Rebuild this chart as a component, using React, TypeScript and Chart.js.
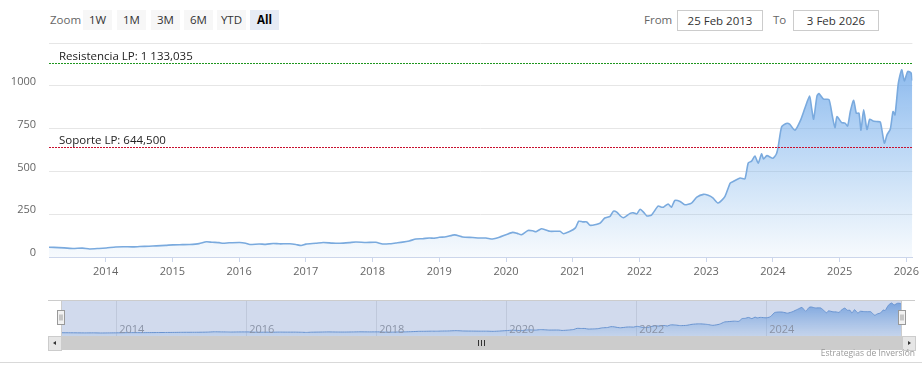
import React, { useEffect, useRef } from 'react';
import { Chart, registerables } from 'chart.js';

Chart.register(...registerables);

// ---- data (fractional years, price) ----
const dates: number[] = [
  2013.151, 2013.3, 2013.51, 2013.65, 2013.76, 2013.9, 2014.01, 2014.15, 2014.26, 2014.4,
  2014.51, 2014.65, 2014.76, 2014.9, 2015.01, 2015.15, 2015.26, 2015.4, 2015.51, 2015.6,
  2015.7, 2015.76, 2015.85, 2016.01, 2016.1, 2016.16, 2016.3, 2016.4, 2016.51, 2016.6,
  2016.76, 2016.85, 2016.93, 2017.0, 2017.15, 2017.26, 2017.4, 2017.51, 2017.65, 2017.75,
  2017.9, 2018.05, 2018.15, 2018.25, 2018.35, 2018.45, 2018.55, 2018.65, 2018.75, 2018.85,
  2018.93, 2019.0, 2019.1, 2019.23, 2019.35, 2019.5, 2019.6, 2019.7, 2019.8, 2019.9,
  2020.0, 2020.1, 2020.17, 2020.23, 2020.33, 2020.4, 2020.45, 2020.53, 2020.6, 2020.66,
  2020.81, 2020.86, 2020.96, 2021.04, 2021.09, 2021.15, 2021.21, 2021.26, 2021.35, 2021.41,
  2021.48, 2021.56, 2021.61, 2021.66, 2021.72, 2021.76, 2021.86, 2021.91, 2021.96, 2022.01,
  2022.07, 2022.11, 2022.18, 2022.28, 2022.32, 2022.36, 2022.43, 2022.48, 2022.53, 2022.61,
  2022.68, 2022.78, 2022.86, 2022.96, 2023.03, 2023.1, 2023.18, 2023.28, 2023.36, 2023.41,
  2023.51, 2023.58, 2023.63, 2023.68, 2023.73, 2023.78, 2023.83, 2023.86, 2023.91, 2024.0,
  2024.05, 2024.08, 2024.13, 2024.2, 2024.25, 2024.33, 2024.41, 2024.48, 2024.55, 2024.58,
  2024.61, 2024.66, 2024.69, 2024.76, 2024.84, 2024.89, 2024.93, 2024.96, 2025.03, 2025.08,
  2025.12, 2025.16, 2025.21, 2025.25, 2025.29, 2025.32, 2025.36, 2025.41, 2025.45, 2025.5,
  2025.56, 2025.61, 2025.67, 2025.71, 2025.76, 2025.8, 2025.83, 2025.88, 2025.93, 2025.97,
  2026.02, 2026.07, 2026.09,
];
const values: number[] = [
  57, 55, 50, 52, 47, 50, 53, 58, 60, 59,
  61, 63, 65, 68, 71, 72, 73, 78, 89, 86,
  84, 80, 83, 85, 80, 73, 76, 74, 79, 77,
  77, 73, 67, 75, 80, 85, 81, 80, 84, 88,
  85, 86, 76, 77, 82, 87, 94, 105, 107, 111,
  110, 115, 118, 129, 117, 114, 111, 111, 105, 115,
  130, 144, 138, 130, 155, 153, 148, 165, 158, 150,
  150, 136, 150, 170, 209, 205, 205, 185, 190, 198,
  228, 238, 268, 262, 238, 229, 255, 258, 252, 279,
  258, 240, 245, 298, 292, 291, 310, 291, 330, 324,
  305, 315, 350, 366, 360, 345, 315, 353, 432, 442,
  461, 456, 549, 560, 590, 548, 602, 572, 592, 577,
  600, 645, 760, 780, 776, 740, 795, 870, 940, 870,
  805, 940, 955, 922, 920, 825, 755, 820, 785, 782,
  765, 850, 916, 840, 840, 741, 860, 745, 805, 795,
  791, 788, 665, 713, 748, 850, 830, 1015, 1094, 1028,
  1084, 1076, 1030,
];

const xMin = 2013.151;
const xMax = 2026.09;
const yearTicks: number[] = [2014, 2015, 2016, 2017, 2018, 2019, 2020, 2021, 2022, 2023, 2024, 2025, 2026];
const navYearTicks: number[] = [2014, 2016, 2018, 2020, 2022, 2024];
const yTicks: number[] = [0, 250, 500, 750, 1000, 1250];
const yMin = 0;
const yMax = 1250;

const resistanceLabel = 'Resistencia LP';
const resistanceValue = 1133.035;
const supportLabel = 'Soporte LP';
const supportValue = 644.5;

const rangeButtons: string[] = ['1W', '1M', '3M', '6M', 'YTD', 'All'];
const selectedRange = 'All';
const fromDate = '25 Feb 2013';
const toDate = '3 Feb 2026';
const creditsText = 'Estrategias de Inversión';

const FONT = '"Open Sans", "Noto Sans", sans-serif';

function fmtLevel(v: number): string {
  const [i, d] = v.toFixed(3).split('.');
  const int = i.replace(/\B(?=(\d{3})+(?!\d))/g, ' ');
  return `${int},${d}`;
}

const levels = [
  { label: resistanceLabel, value: resistanceValue, color: '#1e961e' },
  { label: supportLabel, value: supportValue, color: '#c8102e' },
];

const levelPlugin = {
  id: 'levels',
  afterDatasetsDraw(chart: any) {
    const { ctx, chartArea: a, scales } = chart;
    const y = scales.y;
    levels.forEach((l) => {
      const py = Math.round(y.getPixelForValue(l.value)) + 0.5;
      ctx.save();
      ctx.strokeStyle = l.color;
      ctx.lineWidth = 1;
      ctx.setLineDash([2, 1]);
      ctx.beginPath();
      ctx.moveTo(a.left, py);
      ctx.lineTo(a.right, py);
      ctx.stroke();
      ctx.setLineDash([]);
      ctx.fillStyle = '#222';
      ctx.font = `11.5px ${FONT}`;
      ctx.textBaseline = 'alphabetic';
      ctx.textAlign = 'left';
      ctx.fillText(`${l.label}: ${fmtLevel(l.value)}`, a.left + 10, py - 4);
      ctx.restore();
    });
  },
};

const navPlugin = {
  id: 'navDecor',
  beforeDatasetsDraw(chart: any) {
    const { ctx, chartArea: a, scales } = chart;
    ctx.save();
    ctx.strokeStyle = '#e6e6e6';
    ctx.lineWidth = 1;
    navYearTicks.forEach((yr) => {
      const px = Math.round(scales.x.getPixelForValue(yr)) + 0.5;
      ctx.beginPath();
      ctx.moveTo(px, a.top);
      ctx.lineTo(px, a.bottom);
      ctx.stroke();
    });
    ctx.restore();
  },
  afterDatasetsDraw(chart: any) {
    const { ctx, chartArea: a, scales } = chart;
    ctx.save();
    ctx.fillStyle = '#999';
    ctx.font = `11px ${FONT}`;
    ctx.textBaseline = 'alphabetic';
    ctx.textAlign = 'left';
    navYearTicks.forEach((yr) => {
      const px = scales.x.getPixelForValue(yr);
      ctx.fillText(String(yr), px + 3, a.bottom - 3);
    });
    // selected-range mask (whole range)
    const x0 = scales.x.getPixelForValue(xMin);
    const x1 = scales.x.getPixelForValue(xMax);
    ctx.fillStyle = 'rgba(102,133,194,0.3)';
    ctx.fillRect(x0, a.top, x1 - x0, a.bottom - a.top);
    // outline
    ctx.strokeStyle = '#cccccc';
    ctx.lineWidth = 1;
    ctx.beginPath();
    ctx.moveTo(a.left - 13, a.top + 0.5);
    ctx.lineTo(a.right + 13, a.top + 0.5);
    ctx.moveTo(Math.round(x0) + 0.5, a.top);
    ctx.lineTo(Math.round(x0) + 0.5, a.bottom);
    ctx.moveTo(Math.round(x1) - 0.5, a.top);
    ctx.lineTo(Math.round(x1) - 0.5, a.bottom);
    ctx.stroke();
    // handles
    const cy = (a.top + a.bottom) / 2;
    [x0, x1].forEach((hx) => {
      const rx = Math.round(hx) - 3.5;
      const ry = Math.round(cy) - 7.5;
      ctx.fillStyle = '#f2f2f2';
      ctx.fillRect(rx, ry, 7, 14);
      ctx.strokeStyle = '#999999';
      ctx.strokeRect(rx, ry, 7, 14);
      ctx.beginPath();
      ctx.moveTo(rx + 2.5, ry + 4);
      ctx.lineTo(rx + 2.5, ry + 10);
      ctx.moveTo(rx + 4.5, ry + 4);
      ctx.lineTo(rx + 4.5, ry + 10);
      ctx.stroke();
    });
    ctx.restore();
  },
};

function mainGradient(ctx: any) {
  const chart = ctx.chart;
  const a = chart.chartArea;
  if (!a) return 'rgba(124,181,236,0.4)';
  const g = chart.ctx.createLinearGradient(0, a.top, 0, a.bottom);
  g.addColorStop(0, 'rgba(108,165,232,0.88)');
  g.addColorStop(0.5, 'rgba(118,175,236,0.48)');
  g.addColorStop(1, 'rgba(124,181,236,0.06)');
  return g;
}

function navGradient(ctx: any) {
  const chart = ctx.chart;
  const a = chart.chartArea;
  if (!a) return 'rgba(124,181,236,0.4)';
  const g = chart.ctx.createLinearGradient(0, a.top, 0, a.bottom);
  g.addColorStop(0, 'rgba(100,158,228,0.85)');
  g.addColorStop(1, 'rgba(124,181,236,0.15)');
  return g;
}

export default function App() {
  const mainRef = useRef<HTMLCanvasElement | null>(null);
  const navRef = useRef<HTMLCanvasElement | null>(null);

  useEffect(() => {
    document.body.style.margin = '0';
    document.body.style.overflow = 'hidden';
    const points = dates.map((d, i) => ({ x: d, y: values[i] }));

    const main = new Chart(mainRef.current as HTMLCanvasElement, {
      type: 'line',
      data: {
        datasets: [
          {
            data: points,
            borderColor: '#7aaade',
            borderWidth: 1.6,
            pointRadius: 0,
            fill: 'origin',
            tension: 0.2,
            backgroundColor: mainGradient as any,
          },
        ],
      },
      options: {
        responsive: false,
        animation: false,
        events: [],
        layout: { padding: { top: 43, right: 9, left: 0, bottom: 0 } },
        plugins: { legend: { display: false }, tooltip: { enabled: false } },
        scales: {
          x: {
            type: 'linear',
            min: xMin,
            max: xMax,
            afterFit: (s: any) => {
              s.height = 33;
            },
            afterBuildTicks: (s: any) => {
              s.ticks = yearTicks.map((v) => ({ value: v }));
            },
            grid: { drawOnChartArea: false, drawTicks: true, tickLength: 5, tickColor: '#ccd6eb', color: '#ccd6eb' },
            border: { color: '#ccd6eb', width: 1 },
            ticks: {
              autoSkip: false,
              maxRotation: 0,
              padding: 3,
              color: '#666',
              font: { family: FONT, size: 11 },
              callback: (v: any) => String(v),
            },
          },
          y: {
            min: yMin,
            max: yMax,
            afterFit: (s: any) => {
              s.width = 49;
            },
            afterBuildTicks: (s: any) => {
              s.ticks = yTicks.map((v) => ({ value: v }));
            },
            grid: { color: '#e6e6e6', drawTicks: false },
            border: { display: false },
            ticks: {
              padding: 13,
              labelOffset: -4,
              color: '#666',
              font: { family: FONT, size: 11 },
              callback: (v: any) => (v === yMax ? '' : String(v)),
            },
          },
        },
      },
      plugins: [levelPlugin],
    } as any);

    const vMin = Math.min(...values);
    const vMax = Math.max(...values);
    const pad = (vMax - vMin) * 0.1;

    const nav = new Chart(navRef.current as HTMLCanvasElement, {
      type: 'line',
      data: {
        datasets: [
          {
            data: points,
            borderColor: '#6b9bd6',
            borderWidth: 1,
            pointRadius: 0,
            fill: 'start',
            tension: 0.2,
            backgroundColor: navGradient as any,
          },
        ],
      },
      options: {
        responsive: false,
        animation: false,
        events: [],
        layout: { padding: { top: 10, right: 20, left: 61, bottom: 4 } },
        plugins: { legend: { display: false }, tooltip: { enabled: false } },
        scales: {
          x: { type: 'linear', display: false, min: xMin, max: xMax },
          y: { display: false, min: vMin - pad, max: vMax + pad },
        },
      },
      plugins: [navPlugin],
    } as any);

    return () => {
      main.destroy();
      nav.destroy();
    };
  }, []);

  const btnLeft = [83, 117, 151, 184, 217, 250];

  return (
    <div
      style={{
        position: 'absolute',
        left: 0,
        top: 0,
        width: 922,
        height: 383,
        background: '#fff',
        fontFamily: FONT,
        overflow: 'hidden',
      }}
    >
      {/* range selector */}
      <div style={{ position: 'absolute', left: 50, top: 10, height: 20, lineHeight: '20px', fontSize: 11.5, color: '#666' }}>
        Zoom
      </div>
      {rangeButtons.map((b, i) => {
        const sel = b === selectedRange;
        return (
          <div
            key={b}
            style={{
              position: 'absolute',
              left: btnLeft[i],
              top: 10,
              width: 29,
              height: 20,
              lineHeight: '20px',
              textAlign: 'center',
              fontSize: 11.5,
              background: sel ? '#e6ebf5' : '#f7f7f7',
              color: sel ? '#000' : '#333',
              fontWeight: sel ? 700 : 400,
            }}
          >
            {b}
          </div>
        );
      })}
      <div style={{ position: 'absolute', left: 644, top: 10, height: 20, lineHeight: '20px', fontSize: 11.5, color: '#666' }}>
        From
      </div>
      <div
        style={{
          position: 'absolute',
          left: 677,
          top: 10,
          width: 84,
          height: 19,
          lineHeight: '19px',
          border: '1px solid #cccccc',
          textAlign: 'center',
          fontSize: 11.5,
          color: '#333',
        }}
      >
        {fromDate}
      </div>
      <div style={{ position: 'absolute', left: 773, top: 10, height: 20, lineHeight: '20px', fontSize: 11.5, color: '#666' }}>
        To
      </div>
      <div
        style={{
          position: 'absolute',
          left: 793,
          top: 10,
          width: 84,
          height: 19,
          lineHeight: '19px',
          border: '1px solid #cccccc',
          textAlign: 'center',
          fontSize: 11.5,
          color: '#333',
        }}
      >
        {toDate}
      </div>

      <canvas ref={mainRef} width={922} height={290} style={{ position: 'absolute', left: 0, top: 0, width: 922, height: 290 }} />
      <canvas ref={navRef} width={922} height={50} style={{ position: 'absolute', left: 0, top: 290, width: 922, height: 50 }} />

      {/* scrollbar */}
      <div style={{ position: 'absolute', left: 48, top: 336, width: 867, height: 14, background: '#f2f2f2' }} />
      <div style={{ position: 'absolute', left: 61, top: 336, width: 841, height: 14, background: '#cccccc' }}>
        {[-3, 0, 3].map((dx) => (
          <div key={dx} style={{ position: 'absolute', left: 420 + dx, top: 4, width: 1, height: 6, background: '#333' }} />
        ))}
      </div>
      <div
        style={{
          position: 'absolute',
          left: 48,
          top: 336,
          width: 12,
          height: 13,
          background: '#e6e6e6',
          border: '1px solid #cccccc',
        }}
      >
        <div
          style={{
            position: 'absolute',
            left: 4,
            top: 4,
            width: 0,
            height: 0,
            borderTop: '2.5px solid transparent',
            borderBottom: '2.5px solid transparent',
            borderRight: '3px solid #333',
          }}
        />
      </div>
      <div
        style={{
          position: 'absolute',
          left: 902,
          top: 336,
          width: 12,
          height: 13,
          background: '#e6e6e6',
          border: '1px solid #cccccc',
        }}
      >
        <div
          style={{
            position: 'absolute',
            left: 5,
            top: 4,
            width: 0,
            height: 0,
            borderTop: '2.5px solid transparent',
            borderBottom: '2.5px solid transparent',
            borderLeft: '3px solid #333',
          }}
        />
      </div>

      {/* credits */}
      <div
        style={{
          position: 'absolute',
          right: 7,
          top: 347,
          fontSize: 8.5,
          lineHeight: '12px',
          color: '#999',
          whiteSpace: 'nowrap',
        }}
      >
        {creditsText}
      </div>
      <div style={{ position: 'absolute', left: 0, top: 362, width: 922, height: 1, background: '#d9d9d9' }} />
    </div>
  );
}
